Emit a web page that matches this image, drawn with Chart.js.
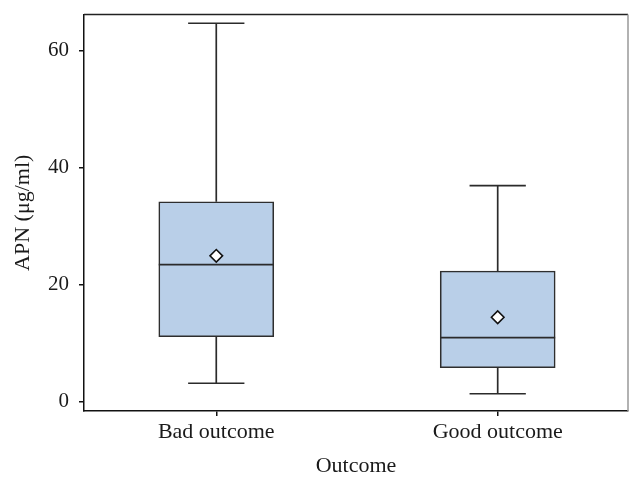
<!DOCTYPE html>
<html>
<head>
<meta charset="utf-8">
<script src="https://cdn.jsdelivr.net/npm/chart.js@4.4.1/dist/chart.umd.min.js"></script>
<style>
  html, body { margin: 0; padding: 0; background: #fff; }
  #wrap { width: 643px; height: 488px; }
</style>
</head>
<body>
<div id="wrap"><canvas id="boxChart" width="643" height="488"></canvas></div>
<script>
// Box plot of APN by outcome group
const categories = ['Bad outcome', 'Good outcome'];
const whiskerLow = [3.1, 1.3];
const q1 = [11.05, 5.75];
const median = [23.4, 10.9];
const q3 = [34.15, 22.3];
const whiskerHigh = [64.7, 36.9];
const means = [24.9, 14.4];
const yTicks = [0, 20, 40, 60];

// x position of each group on the linear x axis
const xPos = categories.map((c, i) => i + 1);
const capHalf = 0.1;     // half width of whisker caps (x units)
const boxHalf = 0.2043;  // half width of box (x units)

// whiskers, caps and medians as one broken line dataset
const gap = x => ({ x: x, y: null });
const lineData = [];
xPos.forEach((x, i) => {
    lineData.push({ x: x, y: q3[i] }, { x: x, y: whiskerHigh[i] }, gap(x));
    lineData.push({ x: x - capHalf, y: whiskerHigh[i] }, { x: x + capHalf, y: whiskerHigh[i] }, gap(x));
    lineData.push({ x: x, y: whiskerLow[i] }, { x: x, y: q1[i] }, gap(x));
    lineData.push({ x: x - capHalf, y: whiskerLow[i] }, { x: x + capHalf, y: whiskerLow[i] }, gap(x));
    lineData.push({ x: x - boxHalf, y: median[i] }, { x: x + boxHalf, y: median[i] }, gap(x));
});

// draws the top and right sides of the plot frame
const frame = {
    id: 'frame',
    afterDatasetsDraw(chart) {
        const { ctx, chartArea: a } = chart;
        ctx.save();
        ctx.lineWidth = 1.5;
        ctx.strokeStyle = '#222';
        ctx.beginPath();
        ctx.moveTo(a.left, a.top);
        ctx.lineTo(a.right, a.top);
        ctx.stroke();
        ctx.strokeStyle = '#999';
        ctx.beginPath();
        ctx.moveTo(a.right, a.top);
        ctx.lineTo(a.right, a.bottom);
        ctx.stroke();
        ctx.restore();
    }
};

const serif = 'Liberation Serif';

new Chart(document.getElementById('boxChart'), {
    type: 'bar',
    data: {
        datasets: [
            {
                type: 'scatter',
                data: xPos.map((x, i) => ({ x: x, y: means[i] })),
                pointStyle: 'rectRot',
                pointRadius: 6.3,
                pointBackgroundColor: '#fff',
                pointBorderColor: '#111',
                pointBorderWidth: 1.6,
                order: 1
            },
            {
                type: 'line',
                data: lineData,
                borderColor: '#2b2b2b',
                borderWidth: 1.7,
                pointRadius: 0,
                spanGaps: false,
                fill: false,
                order: 2
            },
            {
                type: 'bar',
                data: xPos.map((x, i) => ({ x: x, y: [q1[i], q3[i]] })),
                backgroundColor: '#b9cfe8',
                borderColor: '#2e2e2e',
                borderWidth: 1.6,
                borderSkipped: false,
                barThickness: 115,
                order: 3
            }
        ]
    },
    options: {
        responsive: false,
        animation: false,
        layout: { padding: { top: 14.5, right: 15, left: 0, bottom: 0 } },
        plugins: {
            legend: { display: false },
            tooltip: { enabled: false }
        },
        scales: {
            x: {
                type: 'linear',
                offset: false,
                min: 0.530,
                max: 2.463,
                afterFit(scale) {
                    scale.height = 77;
                    scale.paddingLeft = 0;
                    scale.paddingRight = 0;
                },
                afterBuildTicks(scale) { scale.ticks = xPos.map(v => ({ value: v })); },
                grid: { offset: false, drawOnChartArea: false, drawTicks: true, tickLength: 5, color: '#111', lineWidth: 1.5 },
                border: { display: true, color: '#111', width: 1.5 },
                ticks: {
                    padding: 3,
                    color: '#1a1a1a',
                    font: { family: serif, size: 22 },
                    callback: v => categories[v - 1]
                },
                title: {
                    display: true,
                    text: 'Outcome',
                    color: '#1a1a1a',
                    font: { family: serif, size: 22 },
                    padding: { top: 0, bottom: 9 }
                }
            },
            y: {
                min: -1.65,
                max: 66.2,
                afterFit(scale) {
                    scale.width = 84;
                    scale.paddingTop = 0;
                    scale.paddingBottom = 0;
                },
                afterBuildTicks(scale) { scale.ticks = yTicks.map(v => ({ value: v })); },
                grid: { drawOnChartArea: false, drawTicks: true, tickLength: 5, color: '#111', lineWidth: 1.5 },
                border: { display: true, color: '#111', width: 1.5 },
                ticks: {
                    padding: 10,
                    color: '#1a1a1a',
                    font: { family: serif, size: 21 }
                },
                title: {
                    display: true,
                    text: 'APN (μg/ml)',
                    color: '#1a1a1a',
                    font: { family: serif, size: 22 },
                    padding: { top: 10, bottom: 0 }
                }
            }
        }
    },
    plugins: [frame]
});
</script>
</body>
</html>
